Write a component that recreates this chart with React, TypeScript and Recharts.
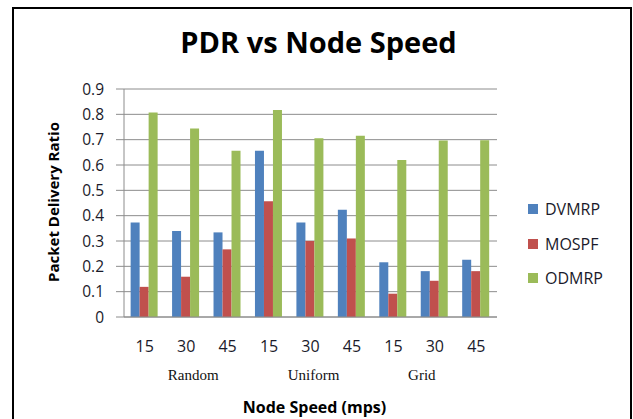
import React from 'react';
import { BarChart, Bar, XAxis, YAxis, CartesianGrid } from 'recharts';

const speeds = ['15', '30', '45', '15', '30', '45', '15', '30', '45'];
const groups = ['Random', 'Uniform', 'Grid'];
const dvmrp = [0.373, 0.339, 0.334, 0.656, 0.373, 0.423, 0.216, 0.181, 0.226];
const mospf = [0.119, 0.159, 0.267, 0.457, 0.300, 0.310, 0.092, 0.143, 0.181];
const odmrp = [0.807, 0.744, 0.656, 0.817, 0.706, 0.715, 0.620, 0.697, 0.698];
const yTicks = [0, 0.1, 0.2, 0.3, 0.4, 0.5, 0.6, 0.7, 0.8, 0.9];

const series = [
  { key: 'DVMRP', color: '#4F81BD' },
  { key: 'MOSPF', color: '#C0504D' },
  { key: 'ODMRP', color: '#9BBB59' },
];

const data = speeds.map((s, i) => ({
  idx: i,
  speed: s,
  group: groups[Math.floor(i / 3)],
  DVMRP: dvmrp[i],
  MOSPF: mospf[i],
  ODMRP: odmrp[i],
}));

const FONT = '"Open Sans", "Noto Sans", sans-serif';
const GROUP_DX = [7, 3, -13];

const XTick = (props: any) => {
  const { x, y, payload } = props;
  const i = payload.value as number;
  const g = Math.floor(i / 3);
  return (
    <g>
      <text x={x} y={y + 27} textAnchor="middle" fontFamily={FONT} fontSize={16} fill="#1a1a2a">
        {speeds[i]}
      </text>
      {i % 3 === 1 && (
        <text x={x + GROUP_DX[g]} y={y + 55} textAnchor="middle" fontFamily='"Liberation Serif", "DejaVu Serif", serif' fontSize={15} fill="#111">
          {groups[g]}
        </text>
      )}
    </g>
  );
};

export default function App() {
  return (
    <div style={{ position: 'absolute', left: 0, top: 0, width: 633, height: 419, background: '#fff', overflow: 'hidden' }}>
      <div style={{ position: 'absolute', left: 12, top: 7, width: 620, height: 430, border: '2px solid #000', boxSizing: 'border-box' }} />
      <div style={{ position: 'absolute', left: 0, top: 22, width: 637, textAlign: 'center', fontFamily: FONT, fontWeight: 700, fontSize: 29, color: '#000' }}>
        PDR vs Node Speed
      </div>
      <div style={{ position: 'absolute', left: 53, top: 202, width: 0, height: 0 }}>
        <div style={{ position: 'absolute', left: -100, top: -10, width: 200, textAlign: 'center', transform: 'rotate(-90deg)', fontFamily: FONT, fontWeight: 700, fontSize: 15, lineHeight: '20px', color: '#000', whiteSpace: 'nowrap' }}>
          Packet Delivery Ratio
        </div>
      </div>
      <div style={{ position: 'absolute', left: 0, top: 0 }}>
        <BarChart width={633} height={419} data={data} margin={{ top: 89, right: 136, left: 0, bottom: 0 }} barCategoryGap="16%" barGap={0}>
          <CartesianGrid vertical={false} stroke="#8c8c8c" strokeWidth={1} />
          <XAxis dataKey="idx" height={102} tick={<XTick />} tickLine={false} axisLine={{ stroke: '#8c8c8c' }} interval={0}
            label={{ value: 'Node Speed (mps)', position: 'insideBottom', offset: 6, fontFamily: FONT, fontWeight: 700, fontSize: 16, fill: '#000', dx: 4 }} />
          <YAxis width={124} domain={[0, 0.9]} ticks={yTicks} tickSize={8} tickMargin={12} interval={0}
            tickLine={{ stroke: '#8c8c8c' }} axisLine={{ stroke: '#8c8c8c' }}
            tickFormatter={(v: number) => (v === 0 ? '0' : v.toFixed(1))}
            tick={{ fontFamily: FONT, fontSize: 15.5, fill: '#1a1a2a' }} />
          {series.map((s) => (
            <Bar key={s.key} dataKey={s.key} fill={s.color} isAnimationActive={false} />
          ))}
        </BarChart>
      </div>
      {series.map((s, i) => (
        <div key={s.key} style={{ position: 'absolute', left: 528, top: 199 + i * 34.5, height: 20, display: 'flex', alignItems: 'center', fontFamily: FONT, fontSize: 16, color: '#1a1a2a' }}>
          <span style={{ display: 'inline-block', width: 10, height: 10, background: s.color, marginRight: 7 }} />
          {s.key}
        </div>
      ))}
    </div>
  );
}
